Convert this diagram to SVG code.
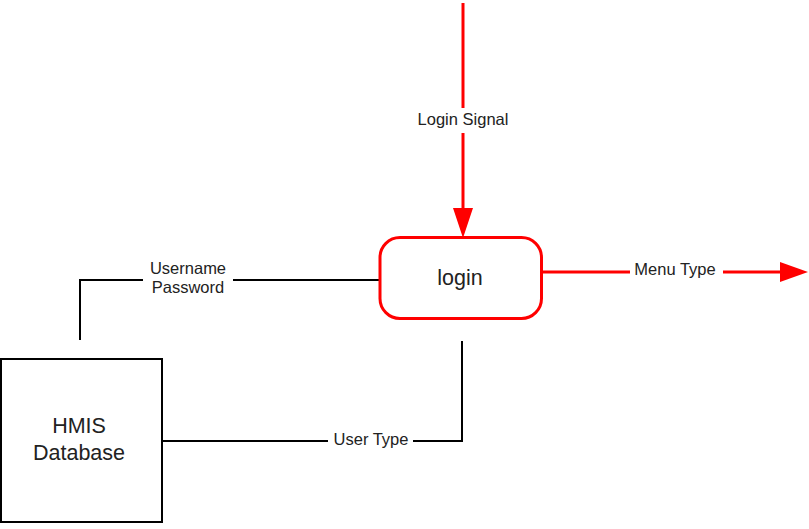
<svg xmlns="http://www.w3.org/2000/svg" width="809" height="529" viewBox="0 0 809 529">
<defs>
<style>
.lbl{font-family:"Liberation Sans",Arial,sans-serif;font-size:16.5px;fill:#222;text-anchor:middle}
.node{font-family:"Liberation Sans",Arial,sans-serif;font-size:21.5px;fill:#222;text-anchor:middle}
.red{stroke:#ff0000;stroke-width:3;fill:none}
.blk{stroke:#000;stroke-width:2;fill:none}
.bg{fill:#fff}
</style>
</defs>
<rect width="809" height="529" fill="#fff"/>
<g id="connectors">
<line class="red" x1="463" y1="3" x2="463" y2="208"/>
<path d="M453,208 L473,208 L463,238 Z" fill="#ff0000"/>
<rect class="bg" x="410" y="108" width="106" height="25"/>
<text class="lbl" x="463" y="125">Login Signal</text>
<line class="red" x1="543" y1="272" x2="780" y2="272"/>
<path d="M780,262 L808,272 L780,282 Z" fill="#ff0000"/>
<rect class="bg" x="630" y="261" width="93" height="20"/>
<text class="lbl" x="675" y="275">Menu Type</text>
<polyline class="blk" points="379,280 80,280 80,340"/>
<rect class="bg" x="143" y="258" width="90" height="40"/>
<text class="lbl" x="188" y="274">Username</text>
<text class="lbl" x="188" y="293">Password</text>
<polyline class="blk" points="162,441 462,441 462,341"/>
<rect class="bg" x="328" y="431" width="85" height="20"/>
<text class="lbl" x="371" y="445">User Type</text>
</g>
<g id="login">
<rect x="380" y="237.5" width="161.5" height="81" rx="20" ry="20" fill="#fff" stroke="#ff0000" stroke-width="3"/>
<text class="node" x="460" y="285">login</text>
</g>
<g id="hmis-database">
<rect x="1" y="359" width="161" height="163" fill="#fff" stroke="#000" stroke-width="2"/>
<text class="node" x="79" y="433">HMIS</text>
<text class="node" x="79" y="460">Database</text>
</g>
</svg>
